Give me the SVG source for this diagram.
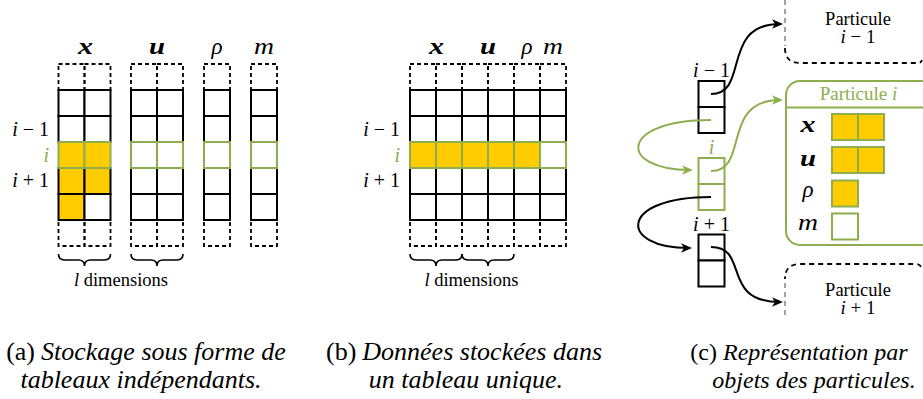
<svg xmlns="http://www.w3.org/2000/svg" width="923" height="399" viewBox="0 0 923 399" font-family="'Liberation Serif', 'Times New Roman', serif">
<style>
text{font-family:'Liberation Serif','Times New Roman',serif}
.mi{font-style:italic}
.mb{font-style:italic;font-weight:bold}
.lab{font-size:23px}
.row{font-size:20px}
.g{fill:#8cae4f}
.cell{fill:#fff;stroke:#000;stroke-width:2}
.dash{fill:none;stroke:#000;stroke-width:1.8;stroke-dasharray:4 3}
.gc{fill:#fff;stroke:#8cae4f;stroke-width:2}
.gy{fill:#ffcc00;stroke:#8cae4f;stroke-width:2}
.y{fill:#ffcc00;stroke:#000;stroke-width:2}
.brace{fill:none;stroke:#000;stroke-width:1.6}
.cap{font-size:26px}
.cap2{font-size:24px}
.ar{fill:none;stroke-width:2}
.k{stroke:#000}
.gr{stroke:#8cae4f}
.pdash{fill:none;stroke-width:1.8;stroke-dasharray:5 4}
</style>
<defs>
<marker id="ak" markerUnits="userSpaceOnUse" markerWidth="20" markerHeight="20" refX="0" refY="0" orient="auto" overflow="visible">
<path d="M3,0 L-8,-4.8 L-5,0 L-8,4.8 Z" fill="#000"/>
</marker>
<marker id="ag" markerUnits="userSpaceOnUse" markerWidth="20" markerHeight="20" refX="0" refY="0" orient="auto" overflow="visible">
<path d="M3,0 L-8,-4.8 L-5,0 L-8,4.8 Z" fill="#8cae4f"/>
</marker>
</defs>
<rect width="923" height="399" fill="#fff"/>

<!-- Panel (a) -->
<g id="panel-a">
<g id="a-labels">
<text class="lab mb" x="78" y="54" textLength="15" lengthAdjust="spacingAndGlyphs">x</text>
<text class="lab mb" x="149" y="54" textLength="16" lengthAdjust="spacingAndGlyphs">u</text>
<text class="lab mi" x="217" y="54" text-anchor="middle">ρ</text>
<text class="lab mi" x="254" y="54" textLength="20" lengthAdjust="spacingAndGlyphs">m</text>
<text class="row" x="49" y="136" text-anchor="end"><tspan class="mi">i</tspan> − 1</text>
<text class="row mi g" x="49" y="162" text-anchor="end">i</text>
<text class="row" x="49" y="187" text-anchor="end"><tspan class="mi">i</tspan> + 1</text>
</g>
<g id="a-col-x">
<rect class="dash" x="58.5" y="64" width="26" height="26"/><rect class="dash" x="84.5" y="64" width="26" height="26"/>
<rect class="dash" x="58.5" y="220" width="26" height="26"/><rect class="dash" x="84.5" y="220" width="26" height="26"/>
<rect class="cell" x="58.5" y="90" width="26" height="26"/><rect class="cell" x="84.5" y="90" width="26" height="26"/>
<rect class="cell" x="58.5" y="116" width="26" height="26"/><rect class="cell" x="84.5" y="116" width="26" height="26"/>
<rect class="y" x="58.5" y="168" width="26" height="26"/><rect class="y" x="84.5" y="168" width="26" height="26"/>
<rect class="y" x="58.5" y="194" width="26" height="26"/><rect class="cell" x="84.5" y="194" width="26" height="26"/>
<rect class="gy" x="58.5" y="142" width="26" height="26"/><rect class="gy" x="84.5" y="142" width="26" height="26"/>
</g>
<g id="a-col-u">
<rect class="dash" x="131" y="64" width="26" height="26"/><rect class="dash" x="157" y="64" width="26" height="26"/>
<rect class="dash" x="131" y="220" width="26" height="26"/><rect class="dash" x="157" y="220" width="26" height="26"/>
<rect class="cell" x="131" y="90" width="26" height="26"/><rect class="cell" x="157" y="90" width="26" height="26"/>
<rect class="cell" x="131" y="116" width="26" height="26"/><rect class="cell" x="157" y="116" width="26" height="26"/>
<rect class="cell" x="131" y="168" width="26" height="26"/><rect class="cell" x="157" y="168" width="26" height="26"/>
<rect class="cell" x="131" y="194" width="26" height="26"/><rect class="cell" x="157" y="194" width="26" height="26"/>
<rect class="gc" x="131" y="142" width="26" height="26"/><rect class="gc" x="157" y="142" width="26" height="26"/>
</g>
<g id="a-col-rho">
<rect class="dash" x="204" y="64" width="26" height="26"/><rect class="dash" x="204" y="220" width="26" height="26"/>
<rect class="cell" x="204" y="90" width="26" height="26"/><rect class="cell" x="204" y="116" width="26" height="26"/>
<rect class="cell" x="204" y="168" width="26" height="26"/><rect class="cell" x="204" y="194" width="26" height="26"/>
<rect class="gc" x="204" y="142" width="26" height="26"/>
</g>
<g id="a-col-m">
<rect class="dash" x="251" y="64" width="26" height="26"/><rect class="dash" x="251" y="220" width="26" height="26"/>
<rect class="cell" x="251" y="90" width="26" height="26"/><rect class="cell" x="251" y="116" width="26" height="26"/>
<rect class="cell" x="251" y="168" width="26" height="26"/><rect class="cell" x="251" y="194" width="26" height="26"/>
<rect class="gc" x="251" y="142" width="26" height="26"/>
</g>
<g id="a-braces">
<path class="brace" d="M58.5,254 Q58.5,260 64.5,260 H78.5 Q84.5,260 84.5,266 Q84.5,260 90.5,260 H104.5 Q110.5,260 110.5,254"/>
<path class="brace" d="M131,254 Q131,260 137,260 H151 Q157,260 157,266 Q157,260 163,260 H177 Q183,260 183,254"/>
<text x="121" y="286" text-anchor="middle" font-size="18.5"><tspan class="mi">l</tspan> dimensions</text>
</g>
</g>

<!-- Panel (b) -->
<g id="panel-b">
<g id="b-labels">
<text class="lab mb" x="429" y="54" textLength="15" lengthAdjust="spacingAndGlyphs">x</text>
<text class="lab mb" x="480" y="54" textLength="16" lengthAdjust="spacingAndGlyphs">u</text>
<text class="lab mi" x="527" y="54" text-anchor="middle">ρ</text>
<text class="lab mi" x="543" y="54" textLength="20" lengthAdjust="spacingAndGlyphs">m</text>
<text class="row" x="400" y="136" text-anchor="end"><tspan class="mi">i</tspan> − 1</text>
<text class="row mi g" x="400" y="162" text-anchor="end">i</text>
<text class="row" x="400" y="187" text-anchor="end"><tspan class="mi">i</tspan> + 1</text>
</g>
<g id="b-grid">
<rect class="dash" x="410" y="64" width="26" height="26"/><rect class="dash" x="436" y="64" width="26" height="26"/><rect class="dash" x="462" y="64" width="26" height="26"/><rect class="dash" x="488" y="64" width="26" height="26"/><rect class="dash" x="514" y="64" width="26" height="26"/><rect class="dash" x="540" y="64" width="26" height="26"/>
<rect class="dash" x="410" y="220" width="26" height="26"/><rect class="dash" x="436" y="220" width="26" height="26"/><rect class="dash" x="462" y="220" width="26" height="26"/><rect class="dash" x="488" y="220" width="26" height="26"/><rect class="dash" x="514" y="220" width="26" height="26"/><rect class="dash" x="540" y="220" width="26" height="26"/>
<rect class="cell" x="410" y="90" width="26" height="26"/><rect class="cell" x="436" y="90" width="26" height="26"/><rect class="cell" x="462" y="90" width="26" height="26"/><rect class="cell" x="488" y="90" width="26" height="26"/><rect class="cell" x="514" y="90" width="26" height="26"/><rect class="cell" x="540" y="90" width="26" height="26"/>
<rect class="cell" x="410" y="116" width="26" height="26"/><rect class="cell" x="436" y="116" width="26" height="26"/><rect class="cell" x="462" y="116" width="26" height="26"/><rect class="cell" x="488" y="116" width="26" height="26"/><rect class="cell" x="514" y="116" width="26" height="26"/><rect class="cell" x="540" y="116" width="26" height="26"/>
<rect class="cell" x="410" y="168" width="26" height="26"/><rect class="cell" x="436" y="168" width="26" height="26"/><rect class="cell" x="462" y="168" width="26" height="26"/><rect class="cell" x="488" y="168" width="26" height="26"/><rect class="cell" x="514" y="168" width="26" height="26"/><rect class="cell" x="540" y="168" width="26" height="26"/>
<rect class="cell" x="410" y="194" width="26" height="26"/><rect class="cell" x="436" y="194" width="26" height="26"/><rect class="cell" x="462" y="194" width="26" height="26"/><rect class="cell" x="488" y="194" width="26" height="26"/><rect class="cell" x="514" y="194" width="26" height="26"/><rect class="cell" x="540" y="194" width="26" height="26"/>
<rect class="gy" x="410" y="142" width="26" height="26"/><rect class="gy" x="436" y="142" width="26" height="26"/><rect class="gy" x="462" y="142" width="26" height="26"/><rect class="gy" x="488" y="142" width="26" height="26"/><rect class="gy" x="514" y="142" width="26" height="26"/><rect class="gc" x="540" y="142" width="26" height="26"/>
</g>
<g id="b-braces">
<path class="brace" d="M410,254 Q410,260 416,260 H430 Q436,260 436,266 Q436,260 442,260 H456 Q462,260 462,254"/>
<path class="brace" d="M462,254 Q462,260 468,260 H482 Q488,260 488,266 Q488,260 494,260 H508 Q514,260 514,254"/>
<text x="471.5" y="286" text-anchor="middle" font-size="18.5"><tspan class="mi">l</tspan> dimensions</text>
</g>
</g>

<!-- Panel (c) -->
<g id="panel-c">
<g id="particle-prev">
<path class="pdash" d="M785,0 V46" stroke="#999"/>
<path class="pdash" d="M785,48 Q785,63 800,63 H918 Q921,63 922,60" stroke="#000"/>
<text x="858" y="25" text-anchor="middle" font-size="18.5">Particule</text>
<text x="858" y="43" text-anchor="middle" font-size="19"><tspan class="mi">i</tspan> − 1</text>
</g>
<g id="particle-next">
<path class="pdash" d="M921,267 Q920,264 916,264 H800 Q785,264 785,279" stroke="#000"/>
<path class="pdash" d="M785,283 V318" stroke="#999"/>
<text x="858" y="296" text-anchor="middle" font-size="18.5">Particule</text>
<text x="858" y="314" text-anchor="middle" font-size="19"><tspan class="mi">i</tspan> + 1</text>
</g>
<g id="particle-i">
<rect x="786" y="81" width="150" height="164" rx="14" fill="#fff" stroke="#8cae4f" stroke-width="2"/>
<line x1="786" y1="107.5" x2="923" y2="107.5" stroke="#8cae4f" stroke-width="2"/>
<text class="g" x="858.5" y="100" text-anchor="middle" font-size="19">Particule <tspan class="mi">i</tspan></text>
<text class="lab mb" x="800.5" y="132" textLength="15" lengthAdjust="spacingAndGlyphs">x</text>
<text class="lab mb" x="800" y="166" textLength="16" lengthAdjust="spacingAndGlyphs">u</text>
<text class="lab mi" x="808" y="197" text-anchor="middle">ρ</text>
<text class="lab mi" x="798" y="230" textLength="20" lengthAdjust="spacingAndGlyphs">m</text>
<rect class="gy" x="832" y="114" width="26" height="26"/><rect class="gy" x="858" y="114" width="26" height="26"/>
<rect class="gy" x="832" y="147" width="26" height="26"/><rect class="gy" x="858" y="147" width="26" height="26"/>
<rect class="gy" x="832" y="180.5" width="26" height="26"/>
<rect class="gc" x="832" y="213.5" width="26" height="26"/>
</g>
<g id="node-prev">
<rect x="698.5" y="81" width="26" height="26" fill="#fff" stroke="#000" stroke-width="2"/>
<rect x="698.5" y="107" width="26" height="26" fill="#fff" stroke="#000" stroke-width="2"/>
<text class="row" x="711.5" y="77" text-anchor="middle"><tspan class="mi">i</tspan> − 1</text>
</g>
<g id="node-i">
<rect x="698.5" y="158" width="26" height="26" fill="#fff" stroke="#8cae4f" stroke-width="2"/>
<rect x="698.5" y="184" width="26" height="26" fill="#fff" stroke="#8cae4f" stroke-width="2"/>
<text class="row mi g" x="711.5" y="154" text-anchor="middle">i</text>
</g>
<g id="node-next">
<rect x="698.5" y="234.5" width="26" height="26" fill="#fff" stroke="#000" stroke-width="2"/>
<rect x="698.5" y="260.5" width="26" height="26" fill="#fff" stroke="#000" stroke-width="2"/>
<text class="row" x="711.5" y="231" text-anchor="middle"><tspan class="mi">i</tspan> + 1</text>
</g>
</g>

<g id="connectors">
<path class="ar k" d="M711,94 C750,94 720,24 780,24" marker-end="url(#ak)"/>
<path class="ar gr" d="M711,120 C618,120 618,170 690,170" marker-end="url(#ag)"/>
<path class="ar gr" d="M711,171 C750,171 720,100 780,100" marker-end="url(#ag)"/>
<path class="ar k" d="M711,197 C618,197 618,248 689,248" marker-end="url(#ak)"/>
<path class="ar k" d="M711,247 C750,247 720,302 780,302" marker-end="url(#ak)"/>
</g>

<g id="captions">
<text class="cap" x="146" y="360" text-anchor="middle">(a)<tspan class="mi" dx="6">Stockage sous forme de</tspan></text>
<text class="cap mi" x="141" y="388" text-anchor="middle">tableaux indépendants.</text>
<text class="cap" x="464" y="360" text-anchor="middle">(b)<tspan class="mi" dx="6">Données stockées dans</tspan></text>
<text class="cap mi" x="466" y="388" text-anchor="middle">un tableau unique.</text>
<text class="cap2" x="799" y="360" text-anchor="middle">(c)<tspan class="mi" dx="6">Représentation par</tspan></text>
<text class="cap2 mi" x="814" y="388" text-anchor="middle">objets des particules.</text>
</g>
</svg>
